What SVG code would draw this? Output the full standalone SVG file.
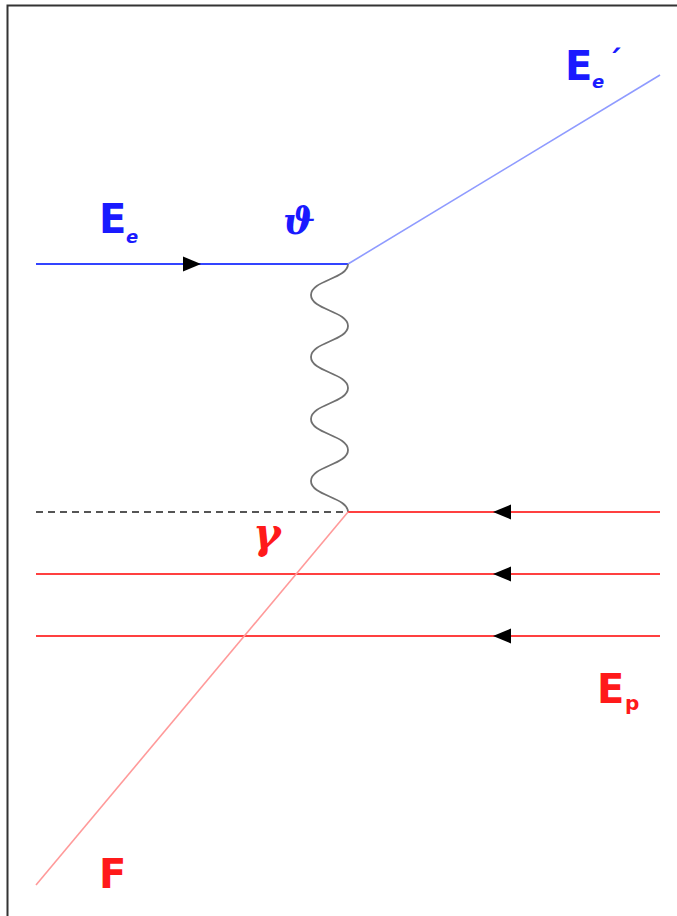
<svg xmlns="http://www.w3.org/2000/svg" width="677" height="916" viewBox="0 0 677 916">
<style>
.lbl{font-family:"DejaVu Sans","Liberation Sans",sans-serif;font-weight:bold}
.greek{font-family:"DejaVu Serif","Liberation Serif",serif;font-style:italic;font-weight:bold}
.blue{fill:#1a1aff}
.red{fill:#ff1a1a}
.arrow{fill:#000}
</style>
<rect width="677" height="916" fill="#fff"/>
<path d="M7.5 916 V5.5 H677" fill="none" stroke="#333" stroke-width="2"/>
<g id="connectors">
  <line x1="36" y1="264" x2="348" y2="264" stroke="#3344ff" stroke-width="2"/>
  <line x1="348" y1="264" x2="660" y2="75" stroke="#8f9bff" stroke-width="1.6"/>
  <path id="wave" d="M348 264 C348 279,311 280,311 295 C311 310,348 311,348 326 C348 341,311 342,311 357 C311 372,348 373,348 388 C348 403,311 404,311 419 C311 434,348 435,348 450 C348 465,311 466,311 481 C311 496,348 497,348 512" fill="none" stroke="#707070" stroke-width="1.8"/>
  <line x1="36" y1="512" x2="348" y2="512" stroke="#555" stroke-width="1.8" stroke-dasharray="7,5"/>
  <line x1="348" y1="512" x2="660" y2="512" stroke="#ff4040" stroke-width="1.8"/>
  <line x1="36" y1="574" x2="660" y2="574" stroke="#ff4040" stroke-width="1.8"/>
  <line x1="36" y1="636" x2="660" y2="636" stroke="#ff4040" stroke-width="1.8"/>
  <line x1="348" y1="512" x2="36" y2="885" stroke="#ff9a9a" stroke-width="1.6"/>
  <polygon class="arrow" points="201,264 183,256.5 183,271.5"/>
  <polygon class="arrow" points="493,512 511,504.5 511,519.5"/>
  <polygon class="arrow" points="493,574 511,566.5 511,581.5"/>
  <polygon class="arrow" points="493,636 511,628.5 511,643.5"/>
</g>
<g id="label-Ee">
  <text class="lbl blue" x="99" y="233" font-size="40">E</text>
  <text class="lbl blue" x="126" y="243" font-size="18" font-style="italic">e</text>
</g>
<g id="label-theta">
  <text class="greek blue" x="283" y="234" font-size="38">ϑ</text>
</g>
<g id="label-Ee-prime">
  <text class="lbl blue" x="565" y="80" font-size="40">E</text>
  <text class="lbl blue" x="592" y="88" font-size="18" font-style="italic">e</text>
  <text class="lbl blue" x="607" y="72" font-size="30">´</text>
</g>
<g id="label-gamma">
  <text class="greek red" x="253" y="548" font-size="42">γ</text>
</g>
<g id="label-Ep">
  <text class="lbl red" x="597" y="703" font-size="40">E</text>
  <text class="lbl red" x="625" y="710" font-size="20">p</text>
</g>
<g id="label-F">
  <text class="lbl red" x="99" y="888" font-size="40">F</text>
</g>
</svg>
